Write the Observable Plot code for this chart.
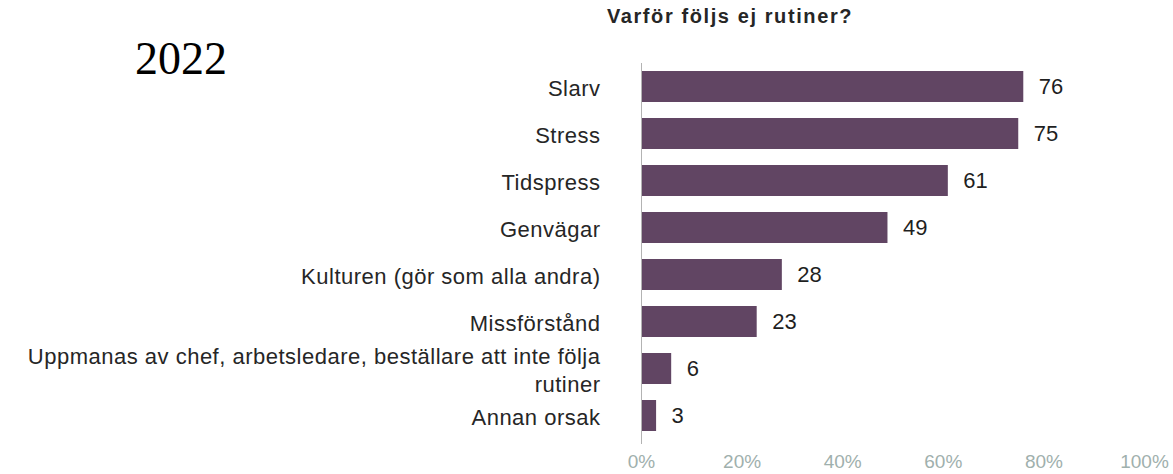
<!DOCTYPE html>
<html><head><meta charset="utf-8">
<script src="https://cdn.jsdelivr.net/npm/d3@7"></script>
<script src="https://cdn.jsdelivr.net/npm/@observablehq/plot@0.6"></script>
<style>
body{margin:0;background:#fff;}
#wrap{position:relative;width:1173px;height:474px;}
#title{position:absolute;left:0;width:1460px;top:5px;text-align:center;font:bold 20px "Liberation Sans",Arial,sans-serif;color:#262626;letter-spacing:1.6px;}
#year{position:absolute;left:135px;top:32px;font:46px "Liberation Serif","Times New Roman",serif;color:#000;}
#chart{position:absolute;left:0;top:0;}
#chart g[aria-label="y-axis tick label"] text{letter-spacing:0.5px;}
</style></head>
<body>
<div id="wrap">
<div id="chart"></div>
<div id="title">Varför följs ej rutiner?</div>
<div id="year">2022</div>
</div>
<script>
const categories = ["Slarv","Stress","Tidspress","Genvägar","Kulturen (gör som alla andra)","Missförstånd","Uppmanas av chef, arbetsledare, beställare att inte följa\nrutiner","Annan orsak"];
const values = [76,75,61,49,28,23,6,3];
const xTicks = [0,20,40,60,80,100];
const data = categories.map((c,i)=>({c, v: values[i]}));
const chart = Plot.plot({
  width:1173, height:474,
  marginLeft:641, marginRight:29, marginTop:67, marginBottom:39,
  style:{fontFamily:"'Liberation Sans', Arial, sans-serif", background:"transparent"},
  x:{domain:[0,100], ticks:xTicks, tickFormat:d=>d+"%", label:null},
  y:{domain:categories, paddingInner:0.33, paddingOuter:0, label:null},
  marks:[
    Plot.barX(data,{x:"v", y:"c", fill:"#614563"}),
    Plot.ruleX([0],{stroke:"#b3b3b3", insetTop:-4, insetBottom:-9}),
    Plot.text(data,{x:"v", y:"c", text:d=>String(d.v), dx:15, textAnchor:"start", fontSize:22, fill:"#1f1f1f"}),
    Plot.axisX({ticks:xTicks, tickFormat:d=>d+"%", tickSize:0, tickPadding:19, fontSize:19, color:"#9fb0ad", label:null}),
    Plot.axisY({tickSize:0, tickPadding:41, fontSize:22, color:"#262626", lineHeight:1.27, label:null})
  ]
});
document.getElementById("chart").appendChild(chart);
</script>
</body></html>
